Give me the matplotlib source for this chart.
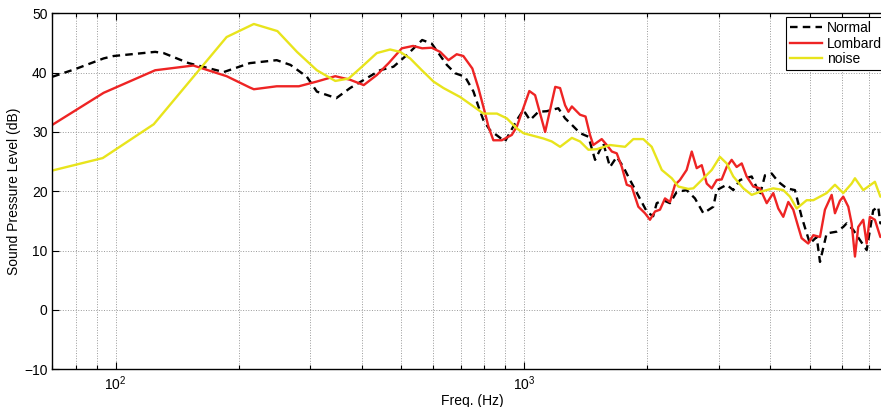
import numpy as np
import matplotlib
matplotlib.use("Agg")
import matplotlib.pyplot as plt
from matplotlib.ticker import LogLocator, NullFormatter

plt.rcParams['font.family'] = ['Liberation Sans', 'DejaVu Sans']
plt.rcParams['mathtext.fontset'] = 'custom'
plt.rcParams['mathtext.rm'] = 'Liberation Sans'
plt.rcParams['mathtext.it'] = 'Liberation Sans'

# Normal speech spectrum (Hz, dB)
normal_f = [70, 79.7, 93.5, 98.9, 125, 131, 151, 184, 213, 248, 268, 294, 311, 347, 375,
            444, 479, 517, 563, 594, 647, 678, 717, 752, 773, 795, 825, 898, 960, 996,
            1034, 1084, 1136, 1213, 1260, 1309, 1371, 1437, 1492, 1563, 1623, 1686, 1750,
            1817, 2000, 2070, 2112, 2192, 2276, 2364, 2500, 2620, 2747, 2906, 2962, 3133,
            3252, 3377, 3607, 3779, 3888, 4037, 4191, 4394, 4603, 4780, 5008, 5203, 5301,
            5503, 5823, 6044, 6162, 6393, 6638, 6897, 7155, 7360, 7450, 8000]
normal_db = [39.3, 40.6, 42.4, 42.8, 43.5, 43.3, 41.6, 40.1, 41.6, 42.1, 41.3, 39.3, 36.8, 35.7, 37.4,
             40.4, 41.0, 43.0, 45.5, 44.9, 41.3, 39.9, 39.3, 36.8, 34.3, 32.0, 30.3, 28.4, 32.0, 33.7,
             32.0, 33.4, 33.5, 34.0, 32.3, 31.2, 29.8, 29.2, 25.3, 28.1, 24.1, 25.8, 24.1,
             21.9, 16.5, 15.8, 18.0, 18.5, 18.0, 19.9, 20.2, 18.8, 16.3, 17.4, 20.2, 21.1,
             20.2, 21.9, 22.5, 19.4, 22.7, 23.0, 21.6, 20.5, 20.2, 15.7, 11.2, 12.3, 8.1,
             12.9, 13.2, 14.0, 14.6, 13.5, 11.8, 10.1, 16.8, 17.4, 14.6, 15.0]

# Lombard speech spectrum
lombard_f = [70, 93.5, 125, 155, 187, 213, 218, 248, 281, 311, 345, 375, 405, 436, 466, 502,
             535, 563, 594, 623, 653, 684, 710, 747, 773, 803, 818, 841, 882, 933, 960, 1030,
             1064, 1126, 1192, 1225, 1260, 1284, 1309, 1371, 1414, 1450, 1477, 1549, 1594,
             1640, 1686, 1735, 1784, 1834, 1904, 1977, 2033, 2092, 2151, 2213, 2276, 2341,
             2407, 2500, 2573, 2646, 2722, 2800, 2880, 2962, 3046, 3133, 3222, 3314, 3410,
             3506, 3640, 3779, 3926, 4074, 4191, 4310, 4434, 4560, 4690, 4780, 4961, 5105,
             5301, 5451, 5662, 5768, 5931, 6044, 6218, 6336, 6456, 6577, 6765, 6897, 7022,
             7224, 7450, 8000]
lombard_db = [31.2, 36.6, 40.4, 41.2, 39.4, 37.5, 37.2, 37.7, 37.7, 38.5, 39.4, 38.8, 37.9, 39.6, 41.6, 44.1,
              44.5, 44.1, 44.2, 43.5, 42.1, 43.1, 42.8, 40.7, 37.4, 33.1, 30.9, 28.6, 28.6, 29.5, 30.9, 36.9,
              36.2, 30.0, 37.6, 37.4, 34.5, 33.4, 34.3, 32.9, 32.6, 29.5, 27.8, 28.8, 27.8,
              26.7, 26.4, 24.1, 21.1, 20.8, 17.4, 16.3, 15.2, 16.6, 16.9, 18.8, 18.2, 21.1,
              21.9, 23.6, 26.7, 23.9, 24.4, 21.3, 20.5, 21.9, 22.0, 24.1, 25.3, 24.1, 24.7,
              22.5, 20.8, 20.5, 18.0, 19.7, 17.1, 15.7, 18.2, 16.9, 14.0, 12.1, 11.2, 12.6,
              12.3, 16.9, 19.4, 16.3, 18.4, 19.1, 17.4, 14.6, 9.0, 14.0, 15.2, 11.2, 15.7,
              15.2, 12.3, 13.0]

# noise spectrum
noise_f = [70, 93, 124, 187, 218, 249, 278, 311, 345, 372, 401, 436, 470, 497, 526, 562, 600,
           635, 697, 752, 795, 858, 907, 960, 996, 1115, 1169, 1225, 1309, 1371, 1437, 1506,
           1623, 1767, 1851, 1958, 2053, 2173, 2299, 2386, 2523, 2596, 2722, 2880, 3016, 3133,
           3252, 3441, 3607, 3779, 4074, 4310, 4475, 4648, 4918, 5105, 5301, 5503, 5768, 6044,
           6336, 6456, 6765, 7224, 7450, 8000]
noise_db = [23.5, 25.6, 31.3, 46.0, 48.2, 47.0, 43.5, 40.4, 38.6, 39.0, 41.0, 43.3, 43.9, 43.5, 42.4, 40.4, 38.5,
            37.4, 35.9, 34.3, 33.1, 33.1, 32.3, 30.6, 29.8, 28.9, 28.4, 27.5, 29.0, 28.4, 27.0, 27.1,
            27.8, 27.5, 28.8, 28.8, 27.5, 23.6, 22.2, 20.8, 20.4, 20.5, 21.9, 23.6, 25.8, 24.7,
            22.5, 20.5, 19.4, 19.9, 20.5, 20.2, 19.1, 17.1, 18.5, 18.5, 19.1, 19.7, 21.1, 19.7,
            21.3, 22.2, 20.2, 21.6, 19.1, 19.5]

fig = plt.figure(figsize=(8.81, 4.07), dpi=100)
ax = fig.add_axes([52.3 / 881, 1 - 369.3 / 407, (893 - 52.3) / 881, (369.3 - 13.3) / 407])

ax.semilogx(normal_f, normal_db, color='k', lw=1.7, ls=(0, (3.2, 2.2)), label='Normal')
ax.semilogx(lombard_f, lombard_db, color='#ee2424', lw=1.7, label='Lombard')
ax.semilogx(noise_f, noise_db, color='#e8e41c', lw=1.7, label='noise')

ax.set_xlim(70, 8000)
ax.set_ylim(-10, 50)
ax.set_yticks(np.arange(-10, 51, 10))
ax.xaxis.set_minor_locator(LogLocator(base=10, subs=np.arange(2, 10)))
ax.xaxis.set_minor_formatter(NullFormatter())

ax.grid(True, which='major', ls=':', color='#999999', lw=0.7)
ax.xaxis.grid(True, which='minor', ls=':', color='#999999', lw=0.7)

ax.tick_params(which='both', direction='in', top=True, right=True, labelsize=10, width=0.8)
ax.tick_params(which='major', length=5)
ax.tick_params(which='minor', length=3)
for s in ax.spines.values():
    s.set_linewidth(1.0)

ax.set_xlabel('Freq. (Hz)', fontsize=10, labelpad=1)
ax.set_ylabel('Sound Pressure Level (dB)', fontsize=10, labelpad=2)

leg = ax.legend(loc='upper left', bbox_to_anchor=(786 / 881, 1 - 17 / 407),
                bbox_transform=fig.transFigure, borderaxespad=0, fontsize=10,
                fancybox=False, framealpha=1, edgecolor='k', handlelength=2.3,
                handletextpad=0.35, labelspacing=0.1, borderpad=0.3)
leg.get_frame().set_linewidth(0.8)

fig.savefig('out.png', dpi=100)
